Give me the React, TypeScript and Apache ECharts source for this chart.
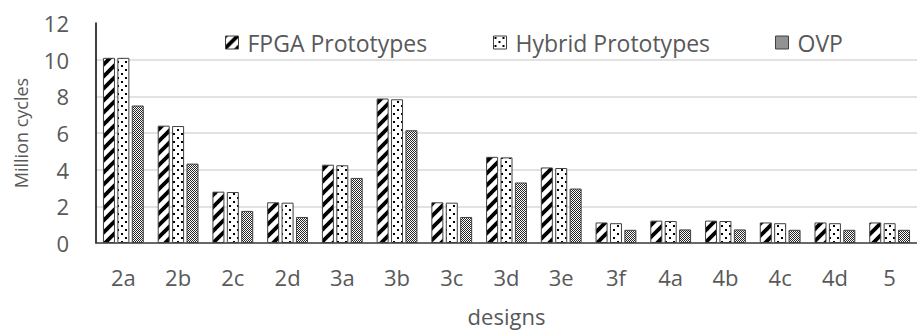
import React, { useEffect, useRef } from "react";
import * as echarts from "echarts";

const categories = ["2a", "2b", "2c", "2d", "3a", "3b", "3c", "3d", "3e", "3f", "4a", "4b", "4c", "4d", "5"];
const fpga = [10.1, 6.4, 2.8, 2.22, 4.27, 7.88, 2.22, 4.7, 4.12, 1.12, 1.22, 1.22, 1.12, 1.12, 1.12];
const hybrid = [10.1, 6.38, 2.78, 2.2, 4.24, 7.84, 2.2, 4.67, 4.09, 1.08, 1.2, 1.2, 1.08, 1.08, 1.08];
const ovp = [7.5, 4.33, 1.75, 1.42, 3.55, 6.15, 1.42, 3.3, 2.97, 0.72, 0.74, 0.74, 0.72, 0.72, 0.72];
const seriesNames = ["FPGA Prototypes", "Hybrid Prototypes", "OVP"];
const yTicks = { min: 0, max: 12, interval: 2 };

const FONT = "'Open Sans', sans-serif";
const TEXT = "#595959";

function makeStripes(): HTMLCanvasElement {
  const c = document.createElement("canvas");
  c.width = 12;
  c.height = 12;
  const g = c.getContext("2d")!;
  g.fillStyle = "#fff";
  g.fillRect(0, 0, 12, 12);
  g.strokeStyle = "#000";
  g.lineWidth = 3.8;
  for (const off of [-12, 0, 12]) {
    g.beginPath();
    g.moveTo(off - 2, 14);
    g.lineTo(off + 14, -2);
    g.stroke();
  }
  return c;
}

function makeDots(): HTMLCanvasElement {
  const c = document.createElement("canvas");
  c.width = 8;
  c.height = 8;
  const g = c.getContext("2d")!;
  g.fillStyle = "#fff";
  g.fillRect(0, 0, 8, 8);
  g.fillStyle = "#000";
  g.fillRect(1, 1, 2, 2);
  g.fillRect(5, 5, 2, 2);
  return c;
}

function makeChecker(): HTMLCanvasElement {
  const c = document.createElement("canvas");
  c.width = 2;
  c.height = 2;
  const g = c.getContext("2d")!;
  g.fillStyle = "#fff";
  g.fillRect(0, 0, 2, 2);
  g.fillStyle = "#262626";
  g.fillRect(0, 0, 1, 1);
  g.fillRect(1, 1, 1, 1);
  return c;
}

export default function App() {
  const ref = useRef<HTMLDivElement>(null);
  useEffect(() => {
    if (!ref.current) return;
    const chart = echarts.init(ref.current, undefined, { renderer: "svg" });
    const patterns = [makeStripes(), makeDots(), makeChecker()];
    const data = [fpga, hybrid, ovp];
    const legendLefts = [225, 493, 775];
    chart.setOption({
      animation: false,
      backgroundColor: "#fff",
      grid: { left: 96, top: 23, width: 827, bottom: 85, containLabel: false },
      legend: seriesNames.map((n, i) => ({
        data: [n],
        left: legendLefts[i],
        top: 31,
        itemWidth: 13,
        itemHeight: 13,
        icon: "rect",
        padding: 0,
        selectedMode: false,
        itemStyle: { borderColor: "#404040", borderWidth: 1 },
        textStyle: { color: TEXT, fontFamily: FONT, fontSize: 23, padding: [0, 0, 0, 4] },
      })),
      xAxis: {
        type: "category",
        data: categories,
        name: "designs",
        nameLocation: "middle",
        nameGap: 62,
        nameTextStyle: { color: TEXT, fontFamily: FONT, fontSize: 22 },
        axisLine: { lineStyle: { color: "#404040", width: 1.5 } },
        axisTick: { show: false },
        axisLabel: { color: TEXT, fontFamily: FONT, fontSize: 22, margin: 23 },
      },
      yAxis: {
        type: "value",
        min: yTicks.min,
        max: yTicks.max,
        interval: yTicks.interval,
        name: "Million cycles",
        nameLocation: "middle",
        nameGap: 66,
        nameTextStyle: { color: TEXT, fontFamily: FONT, fontSize: 18 },
        axisLine: { show: true, lineStyle: { color: "#000", width: 1.5 } },
        axisTick: { show: false },
        axisLabel: { color: TEXT, fontFamily: FONT, fontSize: 22, margin: 27 },
        splitLine: {
          lineStyle: {
            color: ["#d9d9d9", "#d9d9d9", "#d9d9d9", "#d9d9d9", "#d9d9d9", "#d9d9d9", "rgba(0,0,0,0)"],
            width: 1.5,
          },
        },
      },
      series: seriesNames.map((n, i) => ({
        name: n,
        type: "bar",
        data: data[i],
        barWidth: 12,
        barGap: "20%",
        itemStyle: {
          color: { image: patterns[i], repeat: "repeat" },
          borderColor: "#404040",
          borderWidth: 1,
        },
      })),
    });
    return () => chart.dispose();
  }, []);
  return (
    <div
      ref={ref}
      style={{ position: "fixed", left: 0, top: 0, width: 917, height: 332 }}
    />
  );
}
